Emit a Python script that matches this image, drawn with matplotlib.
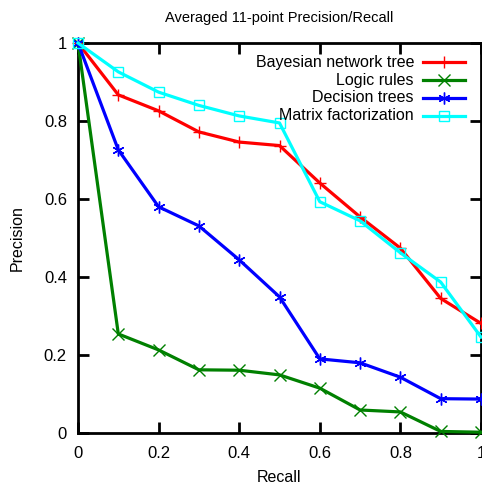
import matplotlib
matplotlib.use("Agg")
import matplotlib.pyplot as plt
from matplotlib.lines import Line2D

plt.rcParams['font.family'] = ['Liberation Sans', 'DejaVu Sans']

recall = [0.0, 0.1, 0.2, 0.3, 0.4, 0.5, 0.6, 0.7, 0.8, 0.9, 1.0]
bayes_tree = [1.0, 0.867, 0.826, 0.772, 0.746, 0.737, 0.641, 0.554, 0.474, 0.345, 0.281]
logic_rules = [1.0, 0.254, 0.213, 0.162, 0.161, 0.149, 0.115, 0.059, 0.054, 0.004, 0.002]
decision_trees = [1.0, 0.726, 0.580, 0.531, 0.444, 0.349, 0.190, 0.180, 0.143, 0.088, 0.087]
matrix_fact = [1.0, 0.926, 0.874, 0.840, 0.813, 0.795, 0.593, 0.544, 0.462, 0.387, 0.246]

series = [
    ("Bayesian network tree", bayes_tree, "red", "+"),
    ("Logic rules", logic_rules, "green", "x"),
    ("Decision trees", decision_trees, "blue", (6, 2, 0)),
    ("Matrix factorization", matrix_fact, "cyan", "s"),
]

W, H = 482, 486
fig = plt.figure(figsize=(W / 100, H / 100), dpi=100)
ax = fig.add_axes([78 / W, 1 - 433 / H, 403 / W, 390 / H])

for i, (name, vals, color, marker) in enumerate(series):
    face = 'none' if marker == "s" else color
    ms = 7.5 if marker == "s" else 8.5
    ax.plot(recall, vals, color=color, lw=2.3, marker=marker, ms=ms,
            mfc=face, mew=1.0, clip_on=False, zorder=3)
    # legend entry (gnuplot style: text right-aligned, sample on the right)
    ly = 1 - (62 + 18 * i) / H
    fig.text(414 / W, ly, name, ha='right', va='center', fontsize=11.5)
    fig.add_artist(Line2D([423 / W, 465 / W], [ly, ly], color=color, lw=2.3,
                          transform=fig.transFigure))
    fig.add_artist(Line2D([444 / W], [ly], color=color, marker=marker, ms=ms,
                          mfc=face, mew=1.0, transform=fig.transFigure))

ax.set_xlim(0, 1)
ax.set_ylim(0, 1)
ax.set_xticks([0, 0.2, 0.4, 0.6, 0.8, 1])
ax.set_xticklabels(["0", "0.2", "0.4", "0.6", "0.8", "1"])
ax.set_yticks([0, 0.2, 0.4, 0.6, 0.8, 1])
ax.set_yticklabels(["0", "0.2", "0.4", "0.6", "0.8", "1"])
ax.tick_params(direction='in', length=8, width=2, top=True, right=True, labelsize=12)
ax.tick_params(axis='y', pad=8)
ax.tick_params(axis='x', pad=9)
for sp in ax.spines.values():
    sp.set_linewidth(2)

ax.set_xlabel("Recall", fontsize=11.5, labelpad=7)
ax.set_ylabel("Precision", fontsize=11.5, labelpad=14)
ax.set_title("Averaged 11-point Precision/Recall", fontsize=10.5, pad=15)

fig.savefig("out.png", dpi=100)
